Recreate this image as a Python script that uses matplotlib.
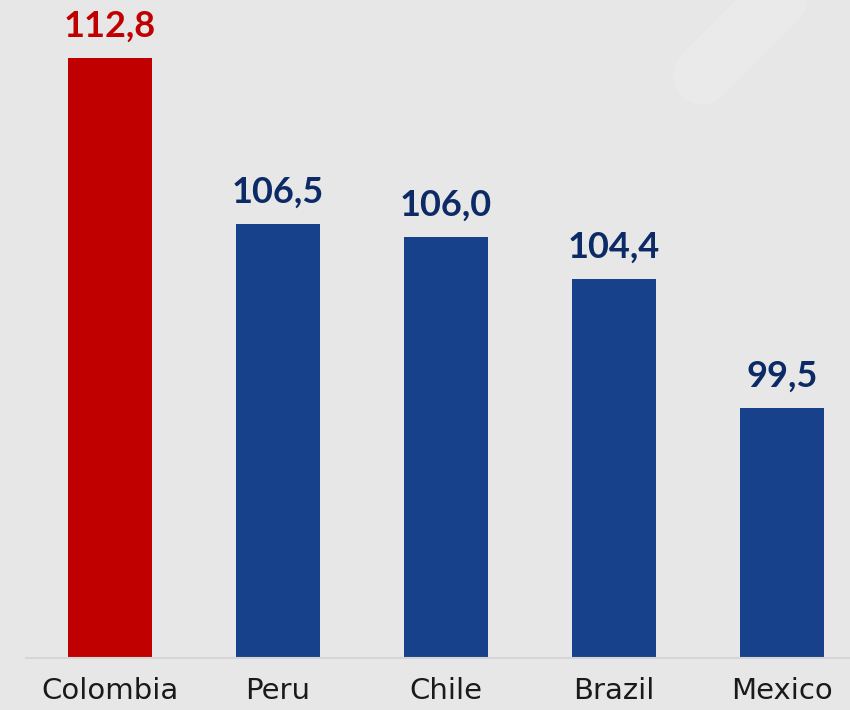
import matplotlib
matplotlib.use('Agg')
from matplotlib import pyplot as plt
from matplotlib.lines import Line2D

countries = ['Colombia', 'Peru', 'Chile', 'Brazil', 'Mexico']
values = [112.8, 106.5, 106.0, 104.4, 99.5]
labels = ['112,8', '106,5', '106,0', '104,4', '99,5']
highlight = 'Colombia'

red = '#c00000'
blue = '#17418a'
navy = '#0b2a66'
bg = '#e7e7e7'

plt.rcParams['font.family'] = ['Lato', 'DejaVu Sans']

fig = plt.figure(figsize=(8.5, 7.1), dpi=100)
fig.patch.set_facecolor(bg)

# faint decorative stroke in the top right corner of the slide
fig.add_artist(Line2D([0.826, 0.98], [0.894, 1.08], transform=fig.transFigure,
                      color='#eaeaea', lw=42, solid_capstyle='round', zorder=0))

ax = fig.add_axes([0.0, 0.0732, 1.0, 0.9268])
ax.set_facecolor('none')

x = list(range(len(countries)))
colors = [red if c == highlight else blue for c in countries]
bars = ax.bar(x, values, width=0.5, color=colors, zorder=2)

for b, v, lab, c in zip(bars, values, labels, countries):
    ax.annotate(lab, (b.get_x() + b.get_width() / 2, v), xytext=(0, 11),
                textcoords='offset points', ha='center', va='bottom',
                fontsize=26, fontweight='bold',
                color=red if c == highlight else navy)

ax.set_ylim(90, 115)
ax.set_xlim(-0.655, 4.405)
ax.set_xticks(x)
ax.set_xticklabels(countries, fontsize=21, color='#1a1a1a', family='DejaVu Sans')
ax.tick_params(axis='x', length=0, pad=14)
ax.set_yticks([])
for s in ['top', 'right', 'left']:
    ax.spines[s].set_visible(False)
ax.spines['bottom'].set_color('#d6d6d6')
ax.spines['bottom'].set_linewidth(1.5)
ax.spines['bottom'].set_bounds(-0.5, 4.405)

fig.savefig('out.png', dpi=100, facecolor=bg)
